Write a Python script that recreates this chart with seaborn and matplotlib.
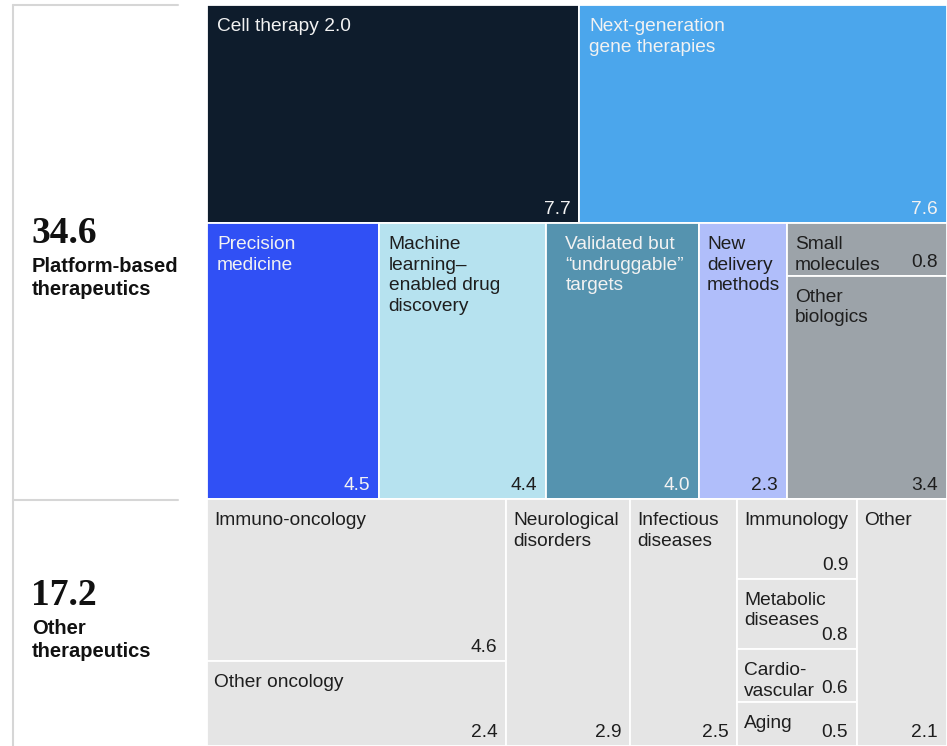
import matplotlib
matplotlib.use("Agg")
import matplotlib.pyplot as plt
from matplotlib.patches import Rectangle
from matplotlib.lines import Line2D
import seaborn as sns

# Platform-based therapeutics: two rows, last column of row 2 is a stack
row1_labels = ["Cell therapy 2.0", "Next-generation\ngene therapies"]
row1_values = [7.7, 7.6]
row2_labels = ["Precision\nmedicine", "Machine\nlearning–\nenabled drug\ndiscovery",
               "Validated but\n“undruggable”\ntargets", "New\ndelivery\nmethods"]
row2_values = [4.5, 4.4, 4.0, 2.3]
stack_labels = ["Small\nmolecules", "Other\nbiologics"]
stack_values = [0.8, 3.4]

# Other therapeutics: columns
onc_labels = ["Immuno-oncology", "Other oncology"]
onc_values = [4.6, 2.4]
single_labels = ["Neurological\ndisorders", "Infectious\ndiseases"]
single_values = [2.9, 2.5]
small_labels = ["Immunology", "Metabolic\ndiseases", "Cardio-\nvascular", "Aging"]
small_values = [0.9, 0.8, 0.6, 0.5]
other_label = "Other"
other_value = 2.1

group_totals = ["34.6", "17.2"]
group_names = ["Platform-based\ntherapeutics", "Other\ntherapeutics"]

row1_colors = ["#0E1C2C", "#4BA6EC"]
row2_colors = ["#3050F5", "#B6E2EF", "#5593AF", "#B0BEFA"]
stack_color = "#9CA3A9"
other_color = "#E5E5E5"
light_txt = "#F2F2F2"
dark_txt = "#1E1E1E"

sns.set_theme(style="white")
plt.rcParams["font.family"] = ["Liberation Sans", "DejaVu Sans"]

W, H = 947, 746
fig = plt.figure(figsize=(W / 100, H / 100), dpi=100)
ax = fig.add_axes([207 / W, 0, 740 / W, 741 / H])

PX = 0.72  # points per pixel
FS = 13.8

cells = []  # label, value, x, y, w, h, face, text colour, left pad

# platform block
P = sum(row1_values) + sum(row2_values) + sum(stack_values)
O = sum(onc_values) + sum(single_values) + sum(small_values) + other_value
y = 0
r1 = sum(row1_values)
x = 0
for lab, v, c in zip(row1_labels, row1_values, row1_colors):
    cells.append((lab, v, x, y, v / r1, r1, c, light_txt, 10))
    x += v / r1
y += r1
r2 = sum(row2_values) + sum(stack_values)
x = 0
pads = [10, 10, 19, 8]
for lab, v, c, pad in zip(row2_labels, row2_values, row2_colors, pads):
    tc = light_txt if c in ("#3050F5", "#5593AF") else dark_txt
    cells.append((lab, v, x, y, v / r2, r2, c, tc, pad))
    x += v / r2
sw = sum(stack_values) / r2
yy = y
for lab, v in zip(stack_labels, stack_values):
    hh = v / sum(stack_values) * r2
    cells.append((lab, v, x, yy, sw, hh, stack_color, dark_txt, 8))
    yy += hh
y += r2

# other block
x = 0
cw = sum(onc_values) / O
yy = y
for lab, v in zip(onc_labels, onc_values):
    hh = v / sum(onc_values) * O
    cells.append((lab, v, x, yy, cw, hh, other_color, dark_txt, 7))
    yy += hh
x += cw
for lab, v in zip(single_labels, single_values):
    cells.append((lab, v, x, y, v / O, O, other_color, dark_txt, 7))
    x += v / O
cw = sum(small_values) / O
yy = y
for lab, v in zip(small_labels, small_values):
    hh = v / sum(small_values) * O
    cells.append((lab, v, x, yy, cw, hh, other_color, dark_txt, 7))
    yy += hh
x += cw
cells.append((other_label, other_value, x, y, other_value / O, O, other_color, dark_txt, 7))

for lab, v, x0, y0, w, h, fc, tc, pad in cells:
    ax.add_patch(Rectangle((x0, y0), w, h, facecolor=fc, edgecolor="white", linewidth=1.3))
    ax.annotate(lab, (x0, y0), xytext=(pad * PX, -13 * PX), textcoords="offset points",
                ha="left", va="top", fontsize=FS, color=tc, linespacing=1.28)
    ax.annotate(f"{v:.1f}", (x0 + w, y0 + h), xytext=(-9 * PX, 9 * PX), textcoords="offset points",
                ha="right", va="baseline", fontsize=FS, color=tc)

ax.set_xlim(0, 1)
ax.set_ylim(P + O, 0)
ax.set_axis_off()

# left panel
line_c = "#D6D6D6"
fig.add_artist(Line2D([13 / W, 13 / W], [0, 1 - 5 / H], color=line_c, lw=1.5))
fig.add_artist(Line2D([13 / W, 178 / W], [1 - 5 / H, 1 - 5 / H], color=line_c, lw=1.5))
fig.add_artist(Line2D([13 / W, 178 / W], [1 - 500 / H, 1 - 500 / H], color=line_c, lw=1.5))

for tot, name, yb in zip(group_totals, group_names, [243, 605]):
    fig.text(31 / W, 1 - yb / H, tot, fontsize=27, fontweight="bold",
             family=["Liberation Serif", "DejaVu Serif"], color="#111111", va="baseline")
    fig.text(32 / W, 1 - (yb + 14) / H, name, fontsize=14.5, fontweight="bold",
             color="#111111", va="top", linespacing=1.25)

fig.savefig("out.png", dpi=100)
